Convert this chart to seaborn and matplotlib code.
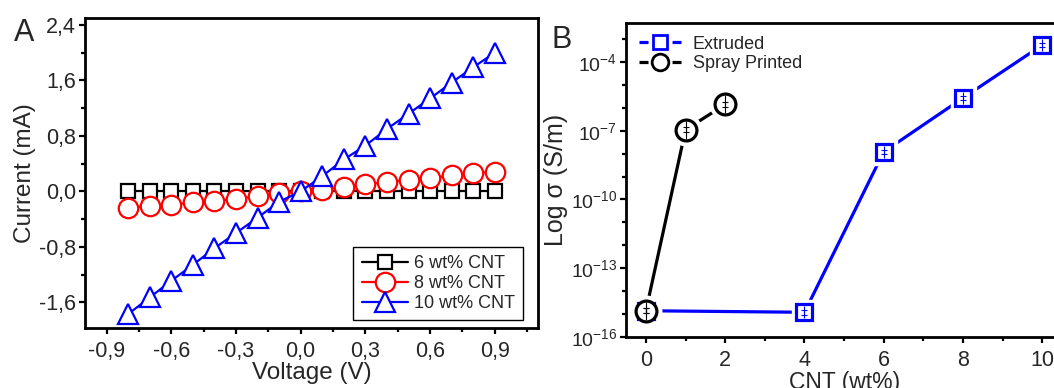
import numpy as np
import pandas as pd
import matplotlib
matplotlib.use("Agg")
import matplotlib.pyplot as plt
import seaborn as sns
from matplotlib.lines import Line2D
from matplotlib.ticker import FixedLocator, FixedFormatter, NullFormatter

# ---- panel A data: I-V curves ----
voltage = [-0.8, -0.7, -0.6, -0.5, -0.4, -0.3, -0.2, -0.1, 0.0,
           0.1, 0.2, 0.3, 0.4, 0.5, 0.6, 0.7, 0.8, 0.9]
cur_6 = [0.0] * 18
cur_8 = [-0.235, -0.21, -0.19, -0.16, -0.14, -0.105, -0.072, -0.03, 0.0,
         0.024, 0.06, 0.105, 0.133, 0.167, 0.19, 0.23, 0.26, 0.285]
cur_10 = [-1.77, -1.53, -1.29, -1.06, -0.82, -0.60, -0.38, -0.15, 0.0,
          0.22, 0.46, 0.66, 0.90, 1.12, 1.34, 1.57, 1.79, 2.00]
iv_labels = ["6 wt% CNT", "8 wt% CNT", "10 wt% CNT"]
iv_colors = ["black", "red", "blue"]
iv_markers = ["s", "o", "^"]
iv_msizes = [9.5, 14, 14.5]

a_xticks = [-0.9, -0.6, -0.3, 0.0, 0.3, 0.6, 0.9]
a_xlabels = ["-0,9", "-0,6", "-0,3", "0,0", "0,3", "0,6", "0,9"]
a_yticks = [-1.6, -0.8, 0.0, 0.8, 1.6, 2.4]
a_ylabels = ["-1,6", "-0,8", "0,0", "0,8", "1,6", "2,4"]

# ---- panel B data: conductivity vs CNT loading ----
ext_cnt = [0, 4, 6, 8, 10]
ext_sigma = [1.4e-15, 1.2e-15, 1.2e-8, 2.7e-6, 5.5e-4]
spray_cnt = [0, 1, 2]
spray_sigma = [1.4e-15, 1.1e-7, 1.4e-6]
err_dec = 0.1  # error bar half-width, decades

b_xticks = [0, 2, 4, 6, 8, 10]
b_yticks = [1e-16, 1e-13, 1e-10, 1e-7, 1e-4]
b_ylabels = [r"$\mathregular{10^{-16}}$", r"$\mathregular{10^{-13}}$",
             r"$\mathregular{10^{-10}}$", r"$\mathregular{10^{-7}}$",
             r"$\mathregular{10^{-4}}$"]

sns.set_style("ticks")
plt.rcParams['font.family'] = ['Liberation Sans', 'DejaVu Sans']
plt.rcParams['axes.unicode_minus'] = False
plt.rcParams['axes.linewidth'] = 2.0

fig = plt.figure(figsize=(10.54, 3.88), dpi=100)
axA = fig.add_axes([0.0806, 0.1546, 0.4298, 0.799])
axB = fig.add_axes([0.594, 0.1314, 0.4137, 0.8093])

# ---------- A ----------
for cur, lab, c, m, ms in zip([cur_6, cur_8, cur_10], iv_labels, iv_colors,
                              iv_markers, iv_msizes):
    sns.lineplot(x=voltage, y=cur, ax=axA, color=c, marker=m, markersize=ms,
                 markerfacecolor="white", markeredgecolor=c, markeredgewidth=1.6,
                 linewidth=1.6, label=lab, sort=False)

axA.set_xlim(-1.0, 1.1)
axA.set_ylim(-1.97, 2.5)
axA.xaxis.set_major_locator(FixedLocator(a_xticks))
axA.xaxis.set_major_formatter(FixedFormatter(a_xlabels))
axA.xaxis.set_minor_locator(FixedLocator(np.arange(-0.75, 1.1, 0.3)))
axA.yaxis.set_major_locator(FixedLocator(a_yticks))
axA.yaxis.set_major_formatter(FixedFormatter(a_ylabels))
axA.yaxis.set_minor_locator(FixedLocator(np.arange(-2.0, 2.5, 0.8)))
axA.set_xlabel("Voltage (V)", fontsize=17.5, labelpad=0)
axA.set_ylabel("Current (mA)", fontsize=17.5, labelpad=2)
leg = axA.legend(loc="lower right", bbox_to_anchor=(0.967, 0.026),
                 borderaxespad=0, fontsize=13, handlelength=2.6,
                 handletextpad=0.3, labelspacing=0.15, borderpad=0.45,
                 fancybox=False, framealpha=1)
leg.get_frame().set_edgecolor("black")
leg.get_frame().set_linewidth(1.0)

# ---------- B ----------
series = [
    (ext_cnt, ext_sigma, "blue", "s", 11),
    (spray_cnt, spray_sigma, "black", "o", 15),
]
for x, y, c, m, ms in series:
    sns.lineplot(x=x, y=y, ax=axB, color=c, linewidth=2.3, sort=False)
for x, y, c, m, ms in series:
    y = np.array(y)
    axB.plot(x, y, ls="none", marker=m, ms=ms + 7, mfc="white", mec="white", zorder=3)
    axB.plot(x, y, ls="none", marker=m, ms=ms, mfc="white", mec=c, mew=2.3, zorder=4)
    axB.plot(x, y, ls="none", marker="|", ms=ms - 2, mec=c, mew=0.8, zorder=5)
    yerr = [y - y * 10 ** -err_dec, y * 10 ** err_dec - y]
    axB.errorbar(x, y, yerr=yerr, fmt="none", ecolor=c, elinewidth=0.8,
                 capsize=2, capthick=0.8, zorder=5)

axB.set_yscale("log")
axB.set_xlim(-0.5, 10.5)
axB.set_ylim(1e-16, 10 ** -2.3)
axB.xaxis.set_major_locator(FixedLocator(b_xticks))
axB.xaxis.set_minor_locator(FixedLocator([1, 3, 5, 7, 9]))
axB.yaxis.set_major_locator(FixedLocator(b_yticks))
axB.yaxis.set_major_formatter(FixedFormatter(b_ylabels))
axB.yaxis.set_minor_locator(FixedLocator([10.0 ** k for k in range(-16, -2)]))
axB.yaxis.set_minor_formatter(NullFormatter())
axB.set_xlabel("CNT (wt%)", fontsize=16.5, labelpad=0)
axB.set_ylabel("Log σ (S/m)", fontsize=18, labelpad=2)

# legend handles: short segment, gap, open marker, gap, short segment
lw_b = 2.3
dash = (0, (6.5 / lw_b, 17.3 / lw_b, 6.5 / lw_b, 40))
handles = [
    Line2D([], [], color="blue", lw=lw_b, ls=dash, marker="s", ms=9.5,
           mfc="white", mec="blue", mew=2.0),
    Line2D([], [], color="black", lw=lw_b, ls=dash, marker="o", ms=12,
           mfc="white", mec="black", mew=2.0),
]
axB.legend(handles, ["Extruded", "Spray Printed"], loc="upper left",
           bbox_to_anchor=(0.0, 1.0), borderaxespad=0.3, frameon=False,
           fontsize=13, handlelength=2.33, handletextpad=0.65, labelspacing=0.15)

for ax, fs_x, fs_y in [(axA, 15.5, 15.5), (axB, 15.5, 14)]:
    for s in ax.spines.values():
        s.set_visible(True)
        s.set_linewidth(2.0)
        s.set_color("black")
    ax.tick_params(axis="both", which="major", direction="out", length=4.5,
                   width=1.6, color="black", pad=2)
    ax.tick_params(axis="both", which="minor", direction="out", length=3,
                   width=1.6, color="black")
    ax.tick_params(axis="x", labelsize=fs_x, pad=5)
    ax.tick_params(axis="y", labelsize=fs_y)
    ax.tick_params(top=False, right=False, which="both")

fig.text(0.0133, 0.894, "A", fontsize=22, va="baseline")
fig.text(0.523, 0.876, "B", fontsize=22, va="baseline")

fig.savefig("out.png", dpi=100)
